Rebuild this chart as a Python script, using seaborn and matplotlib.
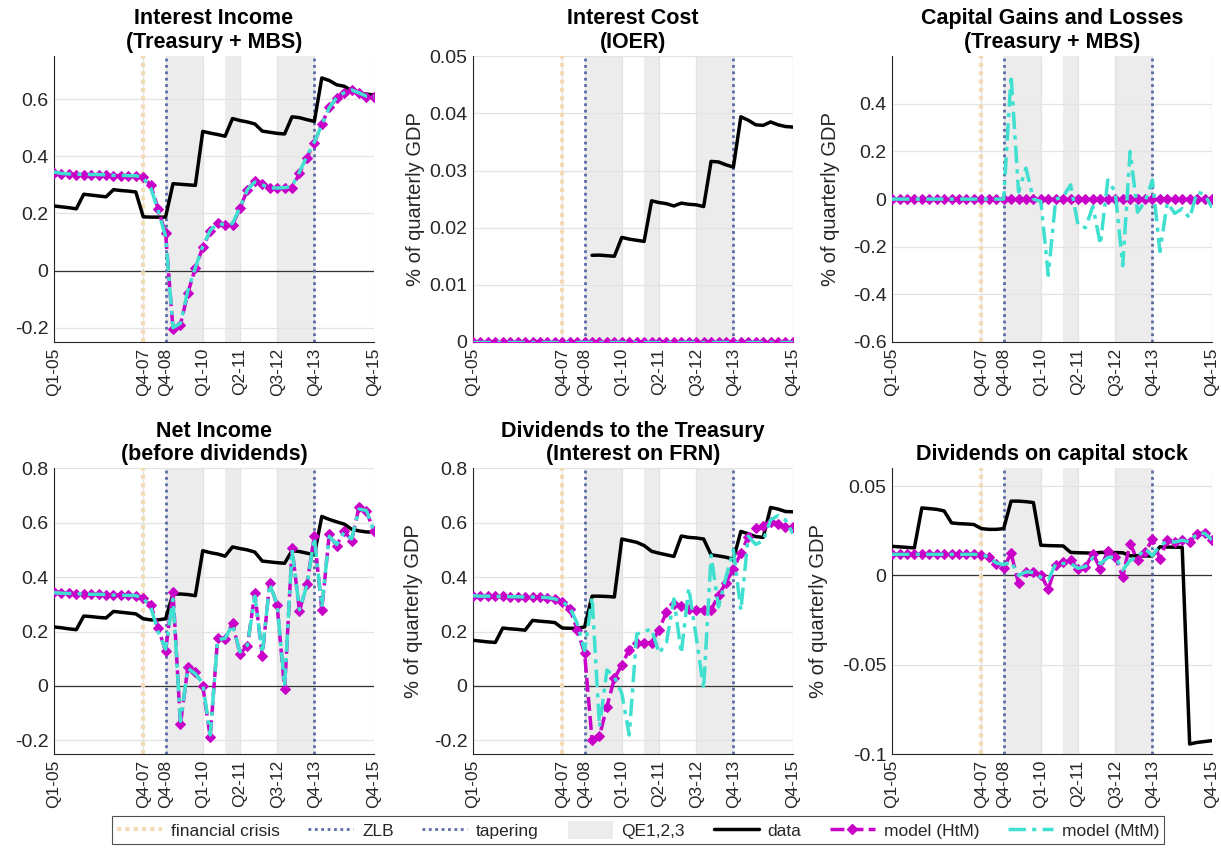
import numpy as np
import pandas as pd
import seaborn as sns
import matplotlib
matplotlib.use('Agg')
from matplotlib import pyplot as plt
from matplotlib.lines import Line2D
from matplotlib.patches import Patch
from matplotlib.ticker import FuncFormatter

nan = np.nan

# quarters Q1-05 .. Q4-15 -> index 0..43
quarter = list(range(44))
tick_pos = [0, 12, 15, 20, 25, 30, 35, 43]
tick_lab = ['Q1-05', 'Q4-07', 'Q4-08', 'Q1-10', 'Q2-11', 'Q3-12', 'Q4-13', 'Q4-15']
crisis_q = 12
zlb_q = 15
taper_q = 35
qe_periods = [(15, 20), (23, 25), (30, 35)]

# Interest Income (Treasury + MBS)
data1 = [0.226, 0.223, 0.22, 0.216, 0.267, 0.264, 0.261, 0.258, 0.283, 0.28, 0.278, 0.275,
         0.188, 0.187, 0.187, 0.187, 0.304, 0.302, 0.3, 0.298, 0.487, 0.481, 0.476, 0.47,
         0.532, 0.525, 0.52, 0.513, 0.488, 0.484, 0.48, 0.478, 0.538, 0.535, 0.528, 0.522,
         0.674, 0.665, 0.65, 0.645, 0.63, 0.62, 0.617, 0.615]
htm1 = [0.342, 0.338, 0.337, 0.336, 0.336, 0.335, 0.335, 0.334, 0.332, 0.332, 0.331, 0.331,
        0.327, 0.30, 0.216, 0.13, -0.205, -0.19, -0.078, 0.008, 0.081, 0.138, 0.167, 0.159,
        0.16, 0.218, 0.283, 0.313, 0.304, 0.289, 0.289, 0.289, 0.289, 0.34, 0.395, 0.448,
        0.512, 0.571, 0.603, 0.621, 0.633, 0.621, 0.609, 0.609]
mtm1 = [0.345, 0.34, 0.338, 0.337, 0.337, 0.336, 0.336, 0.335, 0.333, 0.333, 0.332, 0.332,
        0.325, 0.29, 0.21, 0.12, -0.2, -0.185, -0.07, 0.01, 0.085, 0.14, 0.165, 0.16,
        0.165, 0.22, 0.283, 0.31, 0.3, 0.289, 0.289, 0.29, 0.295, 0.345, 0.4, 0.45,
        0.51, 0.57, 0.605, 0.622, 0.632, 0.622, 0.61, 0.608]

# Interest Cost (IOER)
data2 = [nan, nan, nan, nan, nan, nan, nan, nan, nan, nan, nan, nan,
         nan, nan, nan, nan, 0.01517, 0.0152, 0.0151, 0.015, 0.0183, 0.018, 0.0178, 0.0176,
         0.0247, 0.0244, 0.0242, 0.0238, 0.0243, 0.0241, 0.024, 0.0237, 0.0316, 0.0315, 0.031, 0.0306,
         0.0394, 0.0388, 0.038, 0.0379, 0.0385, 0.038, 0.0377, 0.0376]
htm2 = [0, 0, 0, 0, 0, 0, 0, 0, 0, 0, 0, 0, 0, 0, 0, 0, 0, 0, 0, 0, 0, 0,
        0, 0, 0, 0, 0, 0, 0, 0, 0, 0, 0, 0, 0, 0, 0, 0, 0, 0, 0, 0, 0, 0]
mtm2 = [0, 0, 0, 0, 0, 0, 0, 0, 0, 0, 0, 0, 0, 0, 0, 0, 0, 0, 0, 0, 0, 0,
        0, 0, 0, 0, 0, 0, 0, 0, 0, 0, 0, 0, 0, 0, 0, 0, 0, 0, 0, 0, 0, 0]

# Capital Gains and Losses (Treasury + MBS)
htm3 = [0, 0, 0, 0, 0, 0, 0, 0, 0, 0, 0, 0, 0, 0, 0, 0, 0, 0, 0, 0, 0, 0,
        0, 0, 0, 0, 0, 0, 0, 0, 0, 0, 0, 0, 0, 0, 0, 0, 0, 0, 0, 0, 0, 0]
mtm3 = [0, 0, 0, 0, 0, 0, 0, 0, 0, 0, 0, 0, 0, 0, 0, 0,
        0.52, 0.03, 0.13, 0.0, -0.01, -0.32, 0.0, 0.01, 0.06, -0.11, -0.12, -0.03,
        -0.19, 0.08, 0.03, -0.28, 0.2, -0.055, -0.01, 0.08, -0.22, -0.015, -0.06, -0.04,
        -0.08, 0.03, 0.02, -0.035]

# Net Income (before dividends)
data4 = [0.217, 0.214, 0.21, 0.207, 0.257, 0.255, 0.252, 0.25, 0.274, 0.271, 0.268, 0.265,
         0.247, 0.243, 0.243, 0.247, 0.338, 0.338, 0.336, 0.332, 0.497, 0.49, 0.485, 0.477,
         0.511, 0.505, 0.5, 0.492, 0.459, 0.456, 0.453, 0.451, 0.497, 0.494, 0.488, 0.482,
         0.623, 0.612, 0.603, 0.595, 0.576, 0.57, 0.566, 0.566]
htm4 = [0.345, 0.342, 0.34, 0.339, 0.338, 0.338, 0.337, 0.336, 0.334, 0.334, 0.333, 0.332,
        0.324, 0.298, 0.214, 0.128, 0.345, -0.141, 0.07, 0.05, 0.0, -0.187, 0.176, 0.174,
        0.231, 0.119, 0.148, 0.34, 0.11, 0.38, 0.296, -0.012, 0.506, 0.275, 0.375, 0.55,
        0.28, 0.557, 0.516, 0.571, 0.534, 0.657, 0.642, 0.569]
mtm4 = [0.343, 0.341, 0.34, 0.339, 0.338, 0.337, 0.337, 0.336, 0.334, 0.333, 0.333, 0.332,
        0.322, 0.29, 0.2, 0.135, 0.32, -0.13, 0.065, 0.045, 0.01, -0.18, 0.17, 0.175,
        0.225, 0.125, 0.15, 0.33, 0.12, 0.375, 0.3, 0.0, 0.5, 0.28, 0.37, 0.545,
        0.29, 0.55, 0.52, 0.565, 0.54, 0.65, 0.645, 0.57]

# Dividends to the Treasury (Interest on FRN)
data5 = [0.168, 0.165, 0.162, 0.16, 0.213, 0.21, 0.208, 0.205, 0.241, 0.238, 0.236, 0.233,
         0.213, 0.212, 0.212, 0.217, 0.33, 0.33, 0.329, 0.327, 0.54, 0.534, 0.528, 0.516,
         0.495, 0.488, 0.482, 0.476, 0.551, 0.546, 0.544, 0.54, 0.482, 0.478, 0.473, 0.466,
         0.568, 0.559, 0.549, 0.546, 0.656, 0.65, 0.641, 0.64]
htm5 = [0.332, 0.33, 0.33, 0.329, 0.329, 0.328, 0.328, 0.327, 0.327, 0.326, 0.325, 0.32,
        0.309, 0.284, 0.207, 0.12, -0.198, -0.183, -0.076, 0.028, 0.077, 0.134, 0.159, 0.159,
        0.159, 0.207, 0.272, 0.302, 0.294, 0.282, 0.28, 0.28, 0.28, 0.333, 0.38, 0.43,
        0.488, 0.549, 0.58, 0.589, 0.604, 0.595, 0.583, 0.583]
mtm5 = [0.332, 0.33, 0.33, 0.329, 0.329, 0.328, 0.328, 0.327, 0.327, 0.326, 0.325, 0.32,
        0.31, 0.29, 0.23, 0.13, 0.327, -0.15, 0.059, 0.034, -0.027, -0.18, 0.19, 0.2,
        0.21, 0.12, 0.16, 0.32, 0.12, 0.36, 0.18, -0.01, 0.48, 0.29, 0.4, 0.5,
        0.278, 0.55, 0.52, 0.534, 0.61, 0.626, 0.61, 0.56]

# Dividends on capital stock
data6 = [0.0163, 0.016, 0.0157, 0.0154, 0.0378, 0.0374, 0.037, 0.0361, 0.0294, 0.029, 0.0288, 0.0285,
         0.0262, 0.0258, 0.0258, 0.0262, 0.0416, 0.0416, 0.0413, 0.0408, 0.0169, 0.0167, 0.0166, 0.0165,
         0.0129, 0.0127, 0.0126, 0.0124, 0.0129, 0.0128, 0.0128, 0.0127, 0.011, 0.011, 0.0109, 0.0109,
         0.016, 0.0159, 0.0158, 0.0157, -0.0944, -0.0935, -0.093, -0.0925]
htm6 = [0.0118, 0.0118, 0.0118, 0.0118, 0.0118, 0.0118, 0.0118, 0.0118, 0.0118, 0.0118, 0.0118, 0.0118,
        0.0116, 0.0103, 0.0066, 0.0041, 0.0124, -0.0045, 0.0022, 0.0017, 0.0004, -0.0077, 0.0056, 0.0075,
        0.0084, 0.0037, 0.0047, 0.0122, 0.0037, 0.0137, 0.0103, -0.0006, 0.0178, 0.0084, 0.0131, 0.0202,
        0.0094, 0.02, 0.0187, 0.0197, 0.0187, 0.0234, 0.0238, 0.02]
mtm6 = [0.0118, 0.0118, 0.0118, 0.0118, 0.0118, 0.0118, 0.0118, 0.0118, 0.0118, 0.0118, 0.0118, 0.0118,
        0.0116, 0.0103, 0.007, 0.006, 0.0077, 0.0, 0.002, 0.0017, -0.001, -0.0025, 0.0065, 0.0067,
        0.0067, 0.004, 0.005, 0.01, 0.0066, 0.01, 0.0103, 0.003, 0.0084, 0.0103, 0.015, 0.011,
        0.0169, 0.019, 0.0187, 0.0197, 0.0187, 0.0234, 0.0236, 0.02]

titles = ['Interest Income\n(Treasury + MBS)', 'Interest Cost\n(IOER)',
          'Capital Gains and Losses\n(Treasury + MBS)', 'Net Income\n(before dividends)',
          'Dividends to the Treasury\n(Interest on FRN)', 'Dividends on capital stock']
panels = [(data1, htm1, mtm1), (data2, htm2, mtm2), (None, htm3, mtm3),
          (data4, htm4, mtm4), (data5, htm5, mtm5), (data6, htm6, mtm6)]
ylims = [(-0.25, 0.75), (0, 0.05), (-0.6, 0.6), (-0.25, 0.8), (-0.25, 0.8), (-0.1, 0.06)]
yticks = [[-0.2, 0, 0.2, 0.4, 0.6], [0, 0.01, 0.02, 0.03, 0.04, 0.05],
          [-0.6, -0.4, -0.2, 0, 0.2, 0.4], [-0.2, 0, 0.2, 0.4, 0.6, 0.8],
          [-0.2, 0, 0.2, 0.4, 0.6, 0.8], [-0.1, -0.05, 0, 0.05]]
# first column's y label falls outside the figure in the reference -> not drawn
label_x = [None, -0.15, -0.163, None, -0.156, -0.2]

sns.set_style("white")
plt.rcParams['font.family'] = ['Liberation Sans', 'DejaVu Sans']

c_crisis = '#f3dcb4'
c_zlb = '#5a6ca6'
c_qe = '#ececec'
c_htm = '#c800c8'
c_mtm = '#40e0d0'
ls_htm = (0, (4, 1.5))
ls_mtm = (0, (5, 1.8, 1.2, 1.8))

fig = plt.figure(figsize=(12.21, 8.48), dpi=100)
lefts = [0.0442, 0.3874, 0.7306]
bottoms = [0.5967, 0.1108]
w, h = 0.262, 0.337

for k in range(6):
    r, c = divmod(k, 3)
    ax = fig.add_axes([lefts[c], bottoms[r], w, h])
    data, htm, mtm = panels[k]
    for a, b in qe_periods:
        ax.axvspan(a, b, color=c_qe, lw=0, zorder=0)
    ax.axhline(0, color='#333333', lw=0.9, zorder=1)
    ax.axvline(crisis_q, color=c_crisis, lw=3, linestyle=(0, (1, 1)), zorder=1.5)
    ax.axvline(zlb_q, color=c_zlb, lw=2, linestyle=(0, (1, 1.3)), zorder=1.5)
    ax.axvline(taper_q, color=c_zlb, lw=2, linestyle=(0, (1, 1.3)), zorder=1.5)

    df = pd.DataFrame({'quarter': quarter, 'htm': htm, 'mtm': mtm})
    if data is not None:
        df['data'] = data
        sns.lineplot(data=df.dropna(subset=['data']), x='quarter', y='data', ax=ax,
                     color='black', lw=2.5, zorder=3)
    sns.lineplot(data=df, x='quarter', y='htm', ax=ax, color=c_htm, lw=2.5,
                 linestyle=ls_htm, marker='D', markersize=5.5, markeredgecolor=c_htm,
                 zorder=4)
    sns.lineplot(data=df, x='quarter', y='mtm', ax=ax, color=c_mtm, lw=2.5,
                 linestyle=ls_mtm, zorder=5)

    ax.set_xlim(0, 43)
    ax.set_ylim(*ylims[k])
    ax.set_xticks(tick_pos)
    ax.set_xticklabels(tick_lab, rotation=90, fontsize=12.5, color='#262626')
    ax.set_yticks(yticks[k])
    ax.yaxis.set_major_formatter(FuncFormatter(lambda v, p: '%g' % round(v, 4)))
    ax.tick_params(axis='y', labelsize=14, colors='#262626')
    ax.tick_params(direction='in', length=3, width=0.8, pad=4)
    ax.grid(True, color='#e3e3e3', lw=0.9, zorder=0)
    ax.set_axisbelow(True)
    for s in ['top', 'right']:
        ax.spines[s].set_visible(False)
    for s in ['left', 'bottom']:
        ax.spines[s].set_color('#262626')
        ax.spines[s].set_linewidth(0.8)
    ax.set_xlabel('')
    if label_x[k] is None:
        ax.set_ylabel('')
    else:
        ax.set_ylabel('% of quarterly GDP', fontsize=14.5, color='#262626')
        ax.yaxis.set_label_coords(label_x[k], 0.5)
    ax.set_title(titles[k], fontsize=15.5, fontweight='bold', color='black',
                 pad=6, linespacing=1.15)

handles = [
    Line2D([], [], color=c_crisis, lw=3, linestyle=(0, (1, 1))),
    Line2D([], [], color=c_zlb, lw=2, linestyle=(0, (1, 1.3))),
    Line2D([], [], color=c_zlb, lw=2, linestyle=(0, (1, 1.3))),
    Patch(facecolor=c_qe, edgecolor='none'),
    Line2D([], [], color='black', lw=2.5),
    Line2D([], [], color=c_htm, lw=2.5, linestyle=ls_htm, marker='D', markersize=5.5),
    Line2D([], [], color=c_mtm, lw=2.5, linestyle=ls_mtm),
]
labels = ['financial crisis', 'ZLB', 'tapering', 'QE1,2,3', 'data', 'model (HtM)', 'model (MtM)']
leg = fig.legend(handles, labels, loc='center', bbox_to_anchor=(0.5225, 0.021), ncol=7,
                 fontsize=12.5, frameon=True, fancybox=False, edgecolor='#262626',
                 handlelength=2.6, handleheight=1.2, columnspacing=1.65, handletextpad=0.5,
                 borderpad=0.3)
leg.get_frame().set_linewidth(0.8)

fig.savefig('out.png', dpi=100)
